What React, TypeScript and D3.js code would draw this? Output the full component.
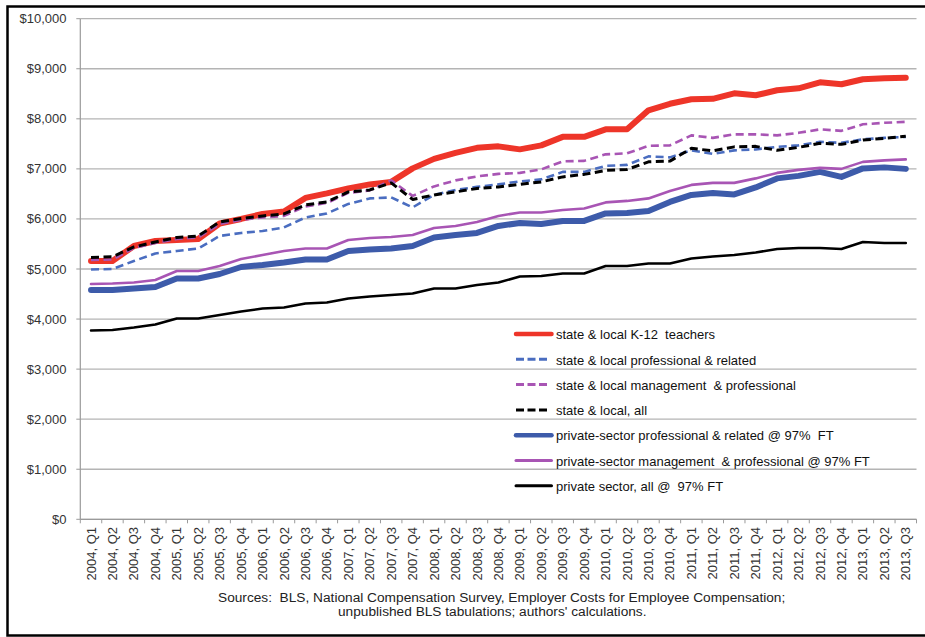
import React from "react";
import * as d3 from "d3";

const categories = [
  "2004, Q1","2004, Q2","2004, Q3","2004, Q4",
  "2005, Q1","2005, Q2","2005, Q3","2005, Q4",
  "2006, Q1","2006, Q2","2006, Q3","2006, Q4",
  "2007, Q1","2007, Q2","2007, Q3","2007, Q4",
  "2008, Q1","2008, Q2","2008, Q3","2008, Q4",
  "2009, Q1","2009, Q2","2009, Q3","2009, Q4",
  "2010, Q1","2010, Q2","2010, Q3","2010, Q4",
  "2011, Q1","2011, Q2","2011, Q3","2011, Q4",
  "2012, Q1","2012, Q2","2012, Q3","2012, Q4",
  "2013, Q1","2013, Q2","2013, Q3",
];

const k12Teachers = [5160, 5160, 5460, 5560, 5580, 5600, 5910, 6000, 6100, 6150, 6420, 6510, 6610, 6690, 6740, 7010, 7200, 7320, 7420, 7450, 7390, 7470, 7640, 7640, 7790, 7790, 8170, 8300, 8390, 8400, 8510, 8470, 8570, 8610, 8730, 8690, 8790, 8810, 8820];
const slProfRelated = [4990, 5000, 5160, 5310, 5360, 5410, 5660, 5720, 5760, 5830, 6030, 6110, 6300, 6410, 6430, 6230, 6480, 6580, 6640, 6690, 6750, 6790, 6940, 6940, 7060, 7080, 7250, 7230, 7370, 7300, 7370, 7390, 7440, 7470, 7540, 7520, 7590, 7620, 7640];
const slMgmtProf = [5180, 5190, 5420, 5520, 5600, 5630, 5900, 5980, 6030, 6060, 6250, 6320, 6520, 6570, 6770, 6460, 6650, 6770, 6850, 6900, 6920, 6990, 7150, 7160, 7290, 7310, 7460, 7470, 7670, 7620, 7690, 7690, 7670, 7720, 7790, 7760, 7890, 7920, 7940];
const slAll = [5230, 5245, 5440, 5540, 5630, 5660, 5940, 6010, 6060, 6100, 6280, 6340, 6540, 6580, 6720, 6390, 6480, 6540, 6610, 6640, 6690, 6740, 6840, 6890, 6970, 6990, 7140, 7155, 7410, 7360, 7440, 7450, 7370, 7430, 7510, 7490, 7575, 7610, 7650];
const pvtProfRelated = [4580, 4580, 4610, 4640, 4810, 4810, 4900, 5040, 5080, 5130, 5190, 5190, 5360, 5390, 5410, 5460, 5630, 5680, 5720, 5860, 5920, 5900, 5960, 5960, 6110, 6120, 6160, 6340, 6480, 6520, 6490, 6630, 6810, 6860, 6940, 6840, 7010, 7030, 7000];
const pvtMgmtProf = [4700, 4710, 4730, 4780, 4960, 4960, 5060, 5200, 5280, 5360, 5410, 5410, 5580, 5620, 5640, 5680, 5820, 5860, 5940, 6060, 6130, 6130, 6180, 6210, 6330, 6360, 6410, 6560, 6680, 6720, 6720, 6810, 6920, 6980, 7020, 7000, 7140, 7170, 7190];
const pvtAll = [3770, 3780, 3830, 3890, 4010, 4010, 4080, 4150, 4210, 4230, 4310, 4330, 4410, 4450, 4480, 4510, 4610, 4610, 4680, 4730, 4850, 4860, 4910, 4910, 5060, 5060, 5110, 5110, 5210, 5250, 5280, 5330, 5400, 5420, 5420, 5400, 5540, 5520, 5520];

const yTicks = [0, 1000, 2000, 3000, 4000, 5000, 6000, 7000, 8000, 9000, 10000];

const seriesNames = [
  "state & local K-12  teachers",
  "state & local professional & related",
  "state & local management  & professional",
  "state & local, all",
  "private-sector professional & related @ 97%  FT",
  "private-sector management  & professional @ 97% FT",
  "private sector, all @  97% FT",
];

const seriesValues = [k12Teachers, slProfRelated, slMgmtProf, slAll, pvtProfRelated, pvtMgmtProf, pvtAll];

const seriesStyles = [
  { color: "#EE3529", width: 6, dash: "", legendWidth: 4.5 },
  { color: "#4A6DC0", width: 2.6, dash: "8,4.5", legendWidth: 3 },
  { color: "#A855B4", width: 2.6, dash: "8,4.5", legendWidth: 3 },
  { color: "#000000", width: 3, dash: "8,4.5", legendWidth: 3 },
  { color: "#3D5BAA", width: 6, dash: "", legendWidth: 4.5 },
  { color: "#A855B4", width: 2.6, dash: "", legendWidth: 3 },
  { color: "#000000", width: 2.6, dash: "", legendWidth: 3 },
];

const sourceLines = [
  "Sources:  BLS, National Compensation Survey, Employer Costs for Employee Compensation;",
  "unpublished BLS tabulations; authors' calculations.",
];

export default function App() {
  const W = 925, H = 637;
  const left = 80.3, right = 916.5, top = 18.7, bottom = 519.3;
  const x = d3.scaleBand<string>().domain(categories).range([left, right]).padding(0);
  const y = d3.scaleLinear().domain([0, 10000]).range([bottom, top]);
  const xc = (i: number) => (x(categories[i]) as number) + x.bandwidth() / 2;
  const line = d3.line<number>().x((_, i) => xc(i)).y((d) => y(d)).curve(d3.curveLinear);
  const fmt = (v: number) => "$" + d3.format(",")(v);
  const font = "'Liberation Sans', Arial, sans-serif";
  const tickEdges = [...categories.map((c) => x(c) as number), right];

  const legX1 = 515, legX2 = 552.5, legTextX = 556, legY0 = 334, legStep = 25.3;

  return (
    <svg width={W} height={H} style={{ position: "absolute", left: 0, top: 0, background: "#fff" }} fontFamily={font}>
      <rect x={0} y={0} width={W} height={H} fill="#fff" />
      <rect x={7.5} y={6.5} width={940} height={629} fill="none" stroke="#000" strokeWidth={2.5} />
      {yTicks.map((t) => (
        <g key={t}>
          <line x1={left} x2={right} y1={y(t)} y2={y(t)} stroke="#B4B4B4" strokeWidth={1.3} />
          <line x1={left - 4} x2={left} y1={y(t)} y2={y(t)} stroke="#9A9A9A" strokeWidth={1} />
          <text x={66.5} y={y(t)} dy="0.35em" textAnchor="end" fontSize={13} fill="#333">{fmt(t)}</text>
        </g>
      ))}
      <line x1={left} x2={left} y1={top} y2={bottom} stroke="#9A9A9A" strokeWidth={1.2} />
      <line x1={left} x2={right} y1={bottom} y2={bottom} stroke="#9A9A9A" strokeWidth={1.2} />
      {tickEdges.map((e, i) => (
        <line key={i} x1={e} x2={e} y1={bottom} y2={bottom + 4} stroke="#9A9A9A" strokeWidth={1} />
      ))}
      {categories.map((c, i) => (
        <text key={c} transform={`translate(${xc(i)},${527}) rotate(-90)`} dy="0.35em" textAnchor="end" fontSize={13} fill="#333">{c}</text>
      ))}
      {seriesValues.map((vals, s) => (
        <path key={s} d={line(vals) as string} fill="none" stroke={seriesStyles[s].color} strokeWidth={seriesStyles[s].width}
          strokeDasharray={seriesStyles[s].dash || undefined} strokeLinejoin="round" strokeLinecap={seriesStyles[s].dash ? "butt" : "round"} />
      ))}
      {seriesNames.map((n, s) => {
        const ly = legY0 + s * legStep;
        const st = seriesStyles[s];
        return (
          <g key={n}>
            <line x1={st.dash ? legX1 + 1 : legX1 + 1} x2={st.dash ? legX2 - 3 : legX2 - 1} y1={ly} y2={ly} stroke={st.color}
              strokeWidth={st.legendWidth} strokeDasharray={st.dash ? "8,3.5" : undefined} strokeLinecap={st.dash ? "butt" : "round"} />
            <text x={legTextX} y={ly} dy="0.4em" fontSize={13} fill="#111" style={{ whiteSpace: "pre" }}>{n}</text>
          </g>
        );
      })}
      <text x={218} y={602} fontSize={13.7} fill="#222" style={{ whiteSpace: "pre" }}>{sourceLines[0]}</text>
      <text x={338} y={616} fontSize={13.7} fill="#222" style={{ whiteSpace: "pre" }}>{sourceLines[1]}</text>
    </svg>
  );
}
